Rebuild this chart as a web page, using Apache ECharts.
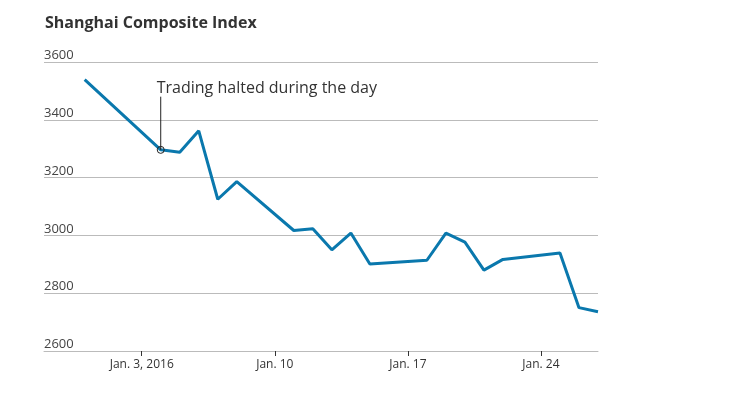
<!DOCTYPE html>
<html>
<head>
<meta charset="utf-8">
<script src="https://cdn.jsdelivr.net/npm/echarts@6/dist/echarts.min.js"></script>
<style>
  html, body { margin: 0; padding: 0; background: #fff; }
  #chart { width: 755px; height: 399px; }
</style>
</head>
<body>
<div id="chart"></div>
<script>
  // trading days and closing values
  const days = ['2015-12-31', '2016-01-04', '2016-01-05', '2016-01-06', '2016-01-07', '2016-01-08',
    '2016-01-11', '2016-01-12', '2016-01-13', '2016-01-14', '2016-01-15',
    '2016-01-18', '2016-01-19', '2016-01-20', '2016-01-21', '2016-01-22',
    '2016-01-25', '2016-01-26', '2016-01-27']
  const closeVals = [3539, 3296, 3288, 3362, 3125, 3186,
    3017, 3023, 2950, 3008, 2901,
    2914, 3008, 2977, 2880, 2917,
    2939, 2750, 2736]
  const tickDays = ['2016-01-03', '2016-01-10', '2016-01-17', '2016-01-24']
  const tickLabels = ['Jan. 3, 2016', 'Jan. 10', 'Jan. 17', 'Jan. 24']
  const yTicks = [2600, 2800, 3000, 3200, 3400, 3600]
  const haltDay = '2016-01-04'
  const haltVal = 3296
  const haltTop = 3480
  const haltText = 'Trading halted during the day'

  // x values are days counted from Jan. 3, 2016
  const base = Date.UTC(2016, 0, 3)
  function dayNum(d) {
    const p = d.split('-')
    return Math.round((Date.UTC(+p[0], +p[1] - 1, +p[2]) - base) / 86400000)
  }
  const tickNums = tickDays.map(dayNum)

  const chart = echarts.init(document.getElementById('chart'))
  chart.setOption({
    animation: false,
    backgroundColor: '#fff',
    title: {
      text: 'Shanghai Composite Index',
      left: 40,
      top: 10,
      textStyle: { fontFamily: 'Open Sans', fontSize: 16, fontWeight: 'bold', color: '#333' }
    },
    grid: { left: 44, right: 157, top: 62, bottom: 48 },
    xAxis: {
      type: 'value',
      min: -5.14,
      max: dayNum('2016-01-27'),
      axisLine: { show: true, lineStyle: { color: '#bbb', width: 1 } },
      axisTick: { show: true, customValues: tickNums, length: 5, lineStyle: { color: '#333' } },
      axisLabel: {
        customValues: tickNums,
        margin: 8,
        fontFamily: 'Open Sans',
        fontSize: 12,
        color: '#333',
        formatter: function (v) {
          const i = tickNums.indexOf(v)
          return i >= 0 ? tickLabels[i] : ''
        }
      },
      splitLine: { show: false }
    },
    yAxis: {
      type: 'value',
      min: yTicks[0],
      max: yTicks[yTicks.length - 1],
      interval: 200,
      axisLine: { show: false },
      axisTick: { show: false },
      axisLabel: {
        inside: true,
        verticalAlign: 'bottom',
        margin: 0,
        padding: 0,
        fontFamily: 'Open Sans',
        fontSize: 13,
        color: '#444',
        formatter: function (v) { return String(v) }
      },
      splitLine: { lineStyle: { color: '#bbb', width: 1 } }
    },
    series: [
      {
        type: 'line',
        data: days.map((d, i) => [dayNum(d), closeVals[i]]),
        showSymbol: false,
        lineStyle: { color: '#0a78ad', width: 3 },
        itemStyle: { color: '#0a78ad' },
        z: 2
      },
      {
        type: 'line',
        data: [
          { value: [dayNum(haltDay), haltVal], symbol: 'circle', symbolSize: 7,
            itemStyle: { color: 'rgba(255,255,255,0)', borderColor: '#222', borderWidth: 1 } },
          { value: [dayNum(haltDay), haltTop], symbol: 'circle', symbolSize: 0,
            itemStyle: { color: 'rgba(0,0,0,0)', borderWidth: 0 },
            label: {
              show: true, position: 'top', align: 'left', distance: 1, offset: [-4, 1],
              formatter: haltText, fontFamily: 'Open Sans', fontSize: 16, color: '#333'
            } }
        ],
        lineStyle: { color: '#222', width: 1 },
        z: 3
      }
    ]
  })
</script>
</body>
</html>
